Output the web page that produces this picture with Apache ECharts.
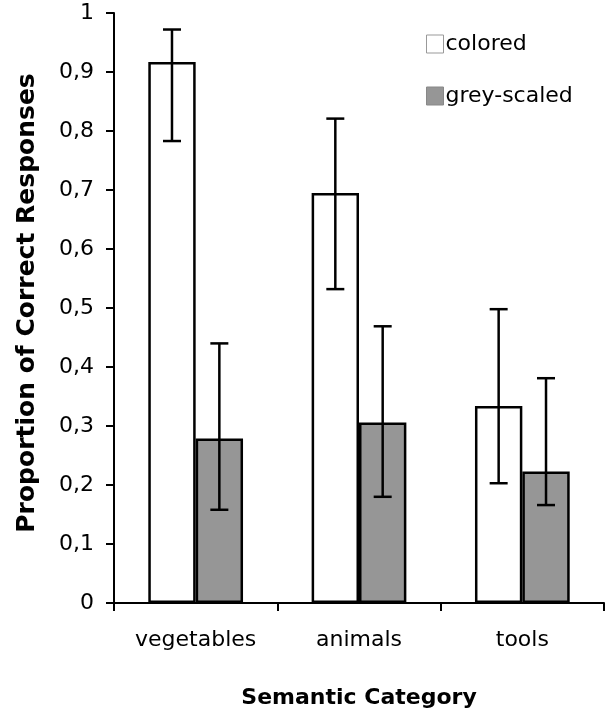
<!DOCTYPE html>
<html>
<head>
<meta charset="utf-8">
<script src="https://cdn.jsdelivr.net/npm/echarts@6/dist/echarts.min.js"></script>
<style>
  html, body { margin: 0; padding: 0; background: #fff; }
  #chart { width: 615px; height: 717px; }
</style>
</head>
<body>
<div id="chart"></div>
<script>
const categories = ['vegetables', 'animals', 'tools'];
const seriesNames = ['colored', 'grey-scaled'];
const coloredValues = [0.917, 0.695, 0.334];
const coloredLower = [0.783, 0.532, 0.203];
const coloredUpper = [0.972, 0.821, 0.498];
const greyValues = [0.279, 0.306, 0.223];
const greyLower = [0.158, 0.180, 0.166];
const greyUpper = [0.440, 0.469, 0.381];

const FONT = 'DejaVu Sans';
const CAT_GAP = 0.42;
const GREY = '#969696';

const chart = echarts.init(document.getElementById('chart'));

function errorSeries(lower, upper, side) {
  const data = categories.map((c, i) => [i, lower[i], upper[i]]);
  return {
    type: 'custom',
    name: 'err' + side,
    silent: true,
    z: 10,
    data: data,
    encode: { x: 0, y: [1, 2] },
    renderItem: function (params, api) {
      const bw = api.size([1, 0])[0];
      const off = bw * (1 - CAT_GAP) / 4 * side;
      const lo = api.coord([api.value(0), api.value(1)]);
      const hi = api.coord([api.value(0), api.value(2)]);
      const x = lo[0] + off;
      const cap = 9;
      const style = { stroke: '#000', lineWidth: 2.5 };
      return {
        type: 'group',
        children: [
          { type: 'line', shape: { x1: x, y1: lo[1], x2: x, y2: hi[1] }, style: style },
          { type: 'line', shape: { x1: x - cap, y1: lo[1], x2: x + cap, y2: lo[1] }, style: style },
          { type: 'line', shape: { x1: x - cap, y1: hi[1], x2: x + cap, y2: hi[1] }, style: style }
        ]
      };
    }
  };
}

const option = {
  animation: false,
  backgroundColor: '#fff',
  textStyle: { fontFamily: FONT, color: '#000' },
  grid: { left: 114, right: 11, top: 13, bottom: 114 },
  legend: {
    orient: 'vertical',
    left: 421,
    top: 28,
    itemWidth: 17,
    itemHeight: 18,
    itemGap: 30,
    icon: 'rect',
    textStyle: { fontFamily: FONT, fontSize: 22, color: '#000', padding: [0, 0, 0, -3] },
    data: [
      { name: seriesNames[0], itemStyle: { color: '#fff', borderColor: '#999', borderWidth: 1 } },
      { name: seriesNames[1], itemStyle: { color: GREY, borderColor: '#888', borderWidth: 1 } }
    ]
  },
  xAxis: {
    type: 'category',
    data: categories,
    name: 'Semantic Category',
    nameLocation: 'middle',
    nameGap: 84,
    nameTextStyle: { fontFamily: FONT, fontSize: 22, fontWeight: 'bold', color: '#000' },
    axisLine: { lineStyle: { color: '#000', width: 2 } },
    axisTick: { show: true, length: 8, lineStyle: { color: '#000', width: 2 } },
    axisLabel: { fontFamily: FONT, fontSize: 22, color: '#000', margin: 26 },
    splitLine: { show: false }
  },
  yAxis: {
    type: 'value',
    min: 0,
    max: 1,
    interval: 0.1,
    name: 'Proportion of Correct Responses',
    nameLocation: 'middle',
    nameGap: 74,
    nameTextStyle: { fontFamily: FONT, fontSize: 25, fontWeight: 'bold', color: '#000', padding: [0, 0, 0, 10] },
    axisLine: { show: true, lineStyle: { color: '#000', width: 2 } },
    axisTick: { show: true, length: 8, lineStyle: { color: '#000', width: 2 } },
    axisLabel: {
      fontFamily: FONT, fontSize: 22, color: '#000', margin: 20,
      formatter: v => (Math.round(v * 10) / 10).toString().replace('.', ',')
    },
    splitLine: { show: false }
  },
  series: [
    {
      type: 'bar',
      name: seriesNames[0],
      data: coloredValues,
      barGap: '0%',
      barCategoryGap: (CAT_GAP * 100) + '%',
      itemStyle: { color: '#fff', borderColor: '#000', borderWidth: 2.5 }
    },
    {
      type: 'bar',
      name: seriesNames[1],
      data: greyValues,
      barGap: '0%',
      barCategoryGap: (CAT_GAP * 100) + '%',
      itemStyle: { color: GREY, borderColor: '#000', borderWidth: 2.5 }
    },
    errorSeries(coloredLower, coloredUpper, -1),
    errorSeries(greyLower, greyUpper, 1)
  ]
};

chart.setOption(option);
</script>
</body>
</html>
